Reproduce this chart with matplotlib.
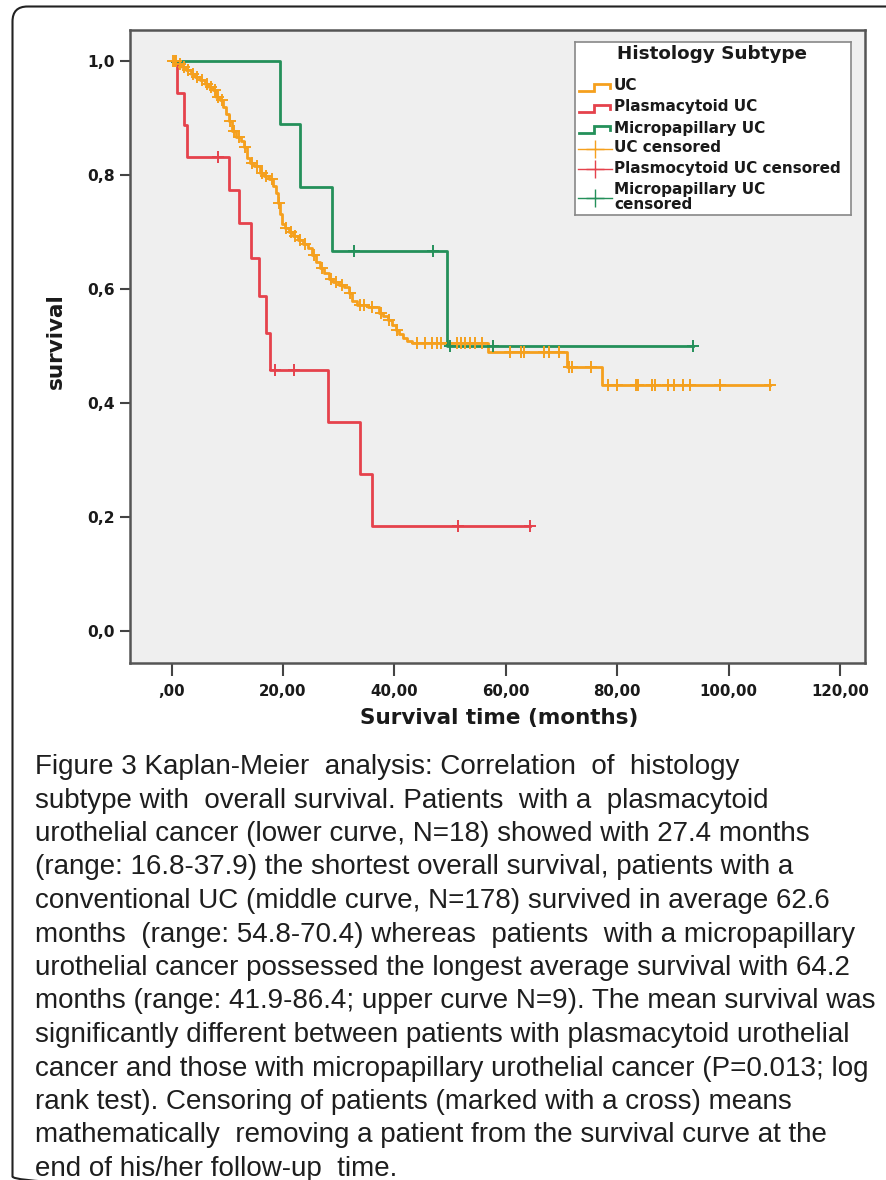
import numpy as np
import matplotlib.pyplot as plt
from matplotlib.patches import FancyBboxPatch

W, H = 886, 1180

# Kaplan-Meier steps: time of each drop (months) and survival after it
uc_t = [1.0, 1.8, 2.6, 3.4, 4.2, 5.0, 5.9, 6.7, 7.4, 8.0,
        8.6, 9.2, 9.7, 10.2, 10.8, 11.5, 12.4, 12.9, 13.5, 14.0,
        14.8, 15.8, 16.6, 17.5, 18.2, 18.7, 19.0, 19.4, 19.8, 20.3,
        21.0, 21.8, 22.7, 23.5, 24.4, 25.2, 25.9, 26.6, 27.4, 28.2,
        29.0, 30.0, 31.0, 31.8, 32.4, 33.2, 35.2, 37.3, 38.0, 38.8,
        39.5, 40.2, 40.8, 41.5, 42.3, 43.2, 56.8, 71.0, 77.2]
uc_s = [0.994, 0.989, 0.983, 0.977, 0.972, 0.966, 0.960, 0.954, 0.948, 0.937,
        0.931, 0.919, 0.907, 0.895, 0.877, 0.866, 0.860, 0.848, 0.830, 0.821,
        0.815, 0.804, 0.798, 0.792, 0.780, 0.768, 0.750, 0.732, 0.714, 0.706,
        0.700, 0.692, 0.686, 0.678, 0.672, 0.660, 0.648, 0.636, 0.628, 0.618,
        0.612, 0.607, 0.603, 0.592, 0.578, 0.572, 0.568, 0.558, 0.552, 0.546,
        0.537, 0.528, 0.521, 0.514, 0.509, 0.505, 0.489, 0.463, 0.432]
uc_cens = [0.2, 0.5, 0.8, 1.4, 2.2, 3.0, 3.8, 4.6, 5.5, 6.3, 7.0, 7.7, 8.3,
           9.0, 10.5, 11.1, 12.0, 13.2, 14.4, 15.3, 16.2, 17.0, 18.0, 19.2,
           20.6, 21.4, 22.2, 23.0, 24.0, 25.5, 27.0, 28.6, 29.5, 30.5, 32.0,
           33.8, 34.5, 36.0, 37.6, 39.0, 40.5, 44.1, 45.5, 46.8, 47.6, 48.3,
           51.3, 52.0, 52.7, 53.5, 54.5, 55.8, 60.7, 62.8, 63.3, 66.9, 67.8,
           69.6, 71.3, 71.8, 75.3, 78.4, 79.9, 83.3, 83.7, 86.3, 86.7, 89.1,
           90.2, 91.9, 93.1, 98.4, 107.4]

pc_t = [0.9, 2.2, 2.7, 10.2, 12.0, 14.2, 15.6, 16.9, 17.6, 28.0, 33.8, 35.9]
pc_s = [0.944, 0.888, 0.832, 0.774, 0.716, 0.654, 0.588, 0.523, 0.458,
        0.367, 0.275, 0.184]
pc_cens = [8.3, 18.5, 21.9, 51.4, 64.3]

mp_t = [19.5, 23.0, 28.8, 49.4]
mp_s = [0.889, 0.778, 0.667, 0.500]
mp_cens = [32.7, 46.9, 50.0, 57.7, 93.6]

xticks = [0, 20, 40, 60, 80, 100, 120]
xticklabels = [',00', '20,00', '40,00', '60,00', '80,00', '100,00', '120,00']
yticks = [0.0, 0.2, 0.4, 0.6, 0.8, 1.0]
yticklabels = ['0,0', '0,2', '0,4', '0,6', '0,8', '1,0']

c_uc = '#F5A01E'
c_pc = '#E5424C'
c_mp = '#24905A'

caption = [
    "Figure 3 Kaplan-Meier  analysis: Correlation  of  histology",
    "subtype with  overall survival. Patients  with a  plasmacytoid",
    "urothelial cancer (lower curve, N=18) showed with 27.4 months",
    "(range: 16.8-37.9) the shortest overall survival, patients with a",
    "conventional UC (middle curve, N=178) survived in average 62.6",
    "months  (range: 54.8-70.4) whereas  patients  with a micropapillary",
    "urothelial cancer possessed the longest average survival with 64.2",
    "months (range: 41.9-86.4; upper curve N=9). The mean survival was",
    "significantly different between patients with plasmacytoid urothelial",
    "cancer and those with micropapillary urothelial cancer (P=0.013; log",
    "rank test). Censoring of patients (marked with a cross) means",
    "mathematically  removing a patient from the survival curve at the",
    "end of his/her follow-up  time.",
]

BOLD = dict(family='DejaVu Sans', fontweight='bold', color='#1a1a1a')

fig = plt.figure(figsize=(W / 100, H / 100), dpi=100)

# page-level layer in pixel coordinates
bg = fig.add_axes([0, 0, 1, 1], zorder=0)
bg.set_xlim(0, W)
bg.set_ylim(H, 0)
bg.axis('off')
bg.add_patch(FancyBboxPatch((12.5, 6.5), 950, 1185,
                            boxstyle='round,pad=0,rounding_size=15',
                            fill=False, lw=1.5, ec='#222222'))
for i, line in enumerate(caption):
    bg.text(35, 767 + i * 33.5, line, fontsize=20, family='Liberation Sans',
            va='center', ha='left', color='#1e1e1e')
bg.text(499, 718, 'Survival time (months)', fontsize=15.5, ha='center',
        va='center', **BOLD)
bg.text(56, 341, 'survival', fontsize=15.5, rotation=90, ha='center',
        va='center', **BOLD)

ax = fig.add_axes([130 / W, 1 - 663 / H, (865 - 130) / W, (663 - 30) / H],
                  zorder=1)
ax.set_facecolor('#EFEFEF')
ax.set_xlim(-7.5, 124.5)
ax.set_ylim(-0.056, 1.054)


def km_curve(t, s, cens, color):
    t = np.asarray(t)
    s = np.asarray(s)
    tt = np.r_[0.0, t, max(cens)]
    ss = np.r_[1.0, s, s[-1]]
    ax.step(tt, ss, where='post', color=color, lw=2.0, zorder=3)
    lvl = np.r_[1.0, s][np.searchsorted(t, cens, side='right')]
    ax.plot(cens, lvl, '+', color=color, ms=8, mew=1.4, zorder=4)


km_curve(uc_t, uc_s, uc_cens, c_uc)
km_curve(pc_t, pc_s, pc_cens, c_pc)
km_curve(mp_t, mp_s, mp_cens, c_mp)

ax.set_xticks(xticks)
ax.set_xticklabels(xticklabels, fontsize=10.8, **BOLD)
ax.set_yticks(yticks)
ax.set_yticklabels(yticklabels, fontsize=11.2, **BOLD)
ax.tick_params(axis='x', length=9, width=1.5, color='#444444', pad=6)
ax.tick_params(axis='y', length=7, width=1.5, color='#444444', pad=4)
for sp in ax.spines.values():
    sp.set_color('#555555')
    sp.set_linewidth(1.8)

# legend box drawn in pixel units
lg = fig.add_axes([575 / W, 1 - 215 / H, 276 / W, 173 / H], zorder=2)
lg.set_xlim(575, 851)
lg.set_ylim(215, 42)
lg.set_xticks([])
lg.set_yticks([])
lg.set_facecolor('white')
for sp in lg.spines.values():
    sp.set_color('#888888')
    sp.set_linewidth(1.2)

lg.text(712, 54, 'Histology Subtype', fontsize=13.2, ha='center',
        va='center', **BOLD)
entries = [('UC', c_uc, 'step', 86), ('Plasmacytoid UC', c_pc, 'step', 107),
           ('Micropapillary UC', c_mp, 'step', 128),
           ('UC censored', c_uc, 'cens', 148),
           ('Plasmocytoid UC censored', c_pc, 'cens', 168),
           ('Micropapillary UC\ncensored', c_mp, 'cens', 197)]
for label, col, kind, y in entries:
    if kind == 'step':
        lg.plot([579, 594, 594, 610, 610], [y + 5, y + 5, y - 2, y - 2, y + 2],
                color=col, lw=2.0, solid_joinstyle='miter')
    else:
        lg.plot([578, 612], [y + 1, y + 1], color=col, lw=1.0)
        lg.plot([595], [y + 1], '+', color=col, ms=13, mew=1.0)
    lg.text(614, y, label, fontsize=11.0, ha='left', va='center',
            linespacing=0.95, **BOLD)

fig.savefig('out.png', dpi=100)
